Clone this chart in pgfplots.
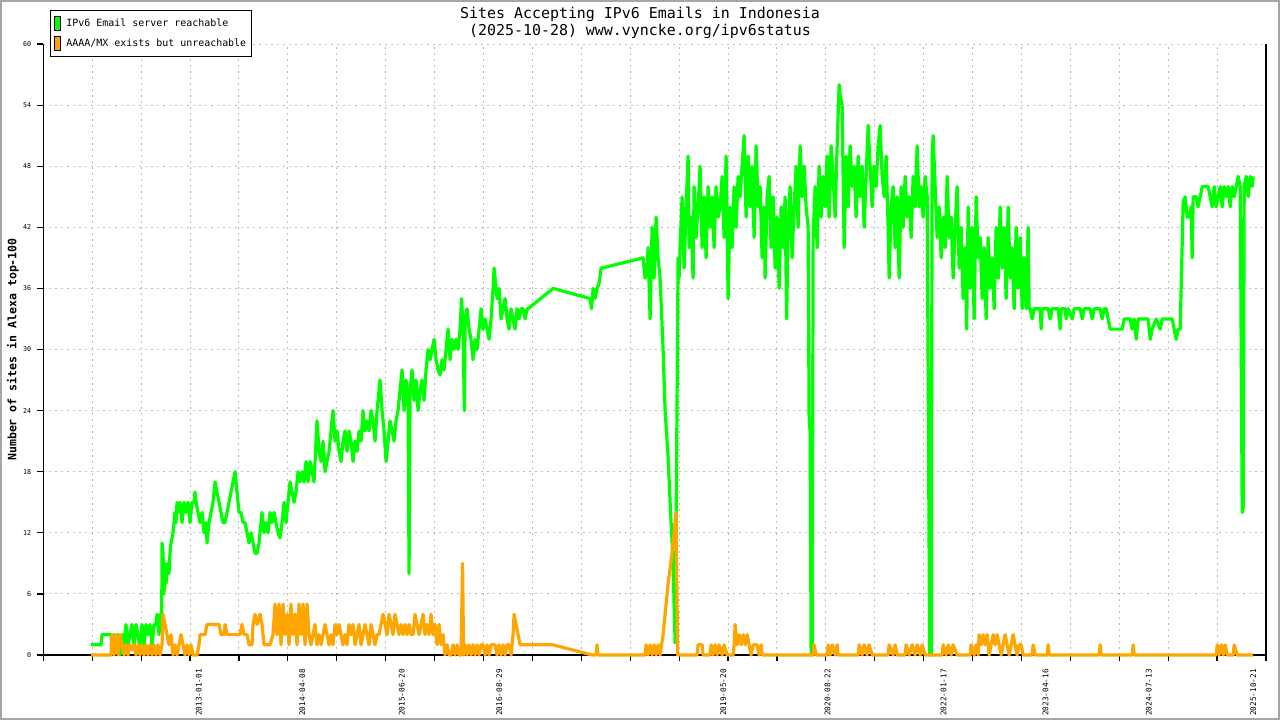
\documentclass[border=0pt]{standalone}
\usepackage{fontspec}
\usepackage{pgfplots}
\pgfplotsset{compat=1.18}
\newfontfamily\mono{DejaVu Sans Mono}
\definecolor{cgreen}{HTML}{00FF00}
\definecolor{corange}{HTML}{FFA500}
\definecolor{cgrid}{HTML}{BEBEBE}
\begin{document}
\begin{tikzpicture}
\useasboundingbox (-43.3bp,-65bp) rectangle (1236.7bp,655bp);
\fill[white] (-43.3bp,-65bp) rectangle (1236.7bp,655bp);
\draw[gray!70, line width=2bp] (-42.3bp,-64bp) rectangle (1235.7bp,654bp);
\begin{axis}[
  scale only axis, width=1222.7bp, height=611bp,
  xmin=43.3, xmax=1265.8, ymin=0, ymax=60,
  axis x line*=bottom, axis y line*=left,
  axis line style={line width=1.2bp, black},
  clip=false,
  tick align=outside,
  xtick={43.3,92.2,141.1,190.0,238.9,287.8,336.7,385.6,434.5,483.4,532.3,581.2,630.1,679.0,727.9,776.8,825.7,874.6,923.5,972.4,1021.3,1070.2,1119.1,1168.0,1216.9,1265.8},
  xticklabels={},
  ytick={0,6,...,60},
  major tick length=6bp,
  every tick/.style={black, line width=1.2bp},
  grid=major,
  major grid style={cgrid, line width=0.9bp, dash pattern=on 2bp off 4bp},
  /pgf/number format/assume math mode=true,
  yticklabel style={font=\mono\fontsize{6.7}{8}\selectfont, inner sep=0pt, xshift=-6bp},
  extra x ticks={198.7,302.3,401.7,499.3,723.3,827.3,943.3,1045.5,1148.5,1253},
  extra x tick labels={2013-01-01,2014-04-08,2015-06-20,2016-08-29,2019-05-20,2020-08-22,2022-01-17,2023-04-16,2024-07-13,2025-10-21},
  extra x tick style={major tick length=0pt, grid=none,
    tick label style={font=\mono\fontsize{7.8}{9}\selectfont, inner sep=0pt, yshift=-14bp, rotate=90, anchor=east}},
  ylabel={\bfseries Number of sites in Alexa top-100},
  ylabel style={font=\mono\fontsize{11.6}{13}\selectfont, at={(axis description cs:-0.0248,0.5)}, anchor=center, inner sep=0pt},
  legend style={at={(axis description cs:0.0055,1.0556)}, anchor=north west, draw=black, line width=1bp,
    font=\mono\fontsize{10}{12}\selectfont, inner xsep=3bp, inner ysep=5.5bp, row sep=5bp,
    nodes={inner sep=2bp}, cells={anchor=west},
    /tikz/every odd column/.append style={column sep=4bp}},
  legend cell align=left,
]
\draw[black, line width=1.2bp] (rel axis cs:1,0) -- (rel axis cs:1,1);
\addplot[cgreen, line width=3.2bp, line join=round,
  legend image code/.code={\filldraw[fill=cgreen, draw=black, line width=0.8bp] (0bp,-7bp) rectangle (6bp,7bp);}]
coordinates {
(91,1)(101,1)(102,2)(111,2)(112,0.5)(114,2)(116,0.5)(118,2)(120,0)(122,2)(124,1)(126,3)(128,1)(130,2)(132,3)(134,1)(136,3)(138,2)(140,0.5)(142,3)(144,1)(146,3)(148,2)(150,3)(152,1)(154,3)(156,3)(157,4)(159,2)(160,4)(161,3)
(161.7,3)(162,11)(163,10)(164,6)(165,9)(166,7)(167,8)(168,9)(169,8)(170,10)(171,11)(173,12)(175,14)(176,13)(177,15)(178,14)(180,15)(182,13)(184,15)(186,14)(188,15)(190,13)(192,15)(194,15)(195,16)(196,15)(198,14)(200,13)(202,14)(204,12)(206,13)(207,11)(209,13)(211,14)(213,15)(215,17)(217,16)(219,15)(221,14)(223,13)(225,13)(227,14)(229,15)(231,16)(233,17)(235,18)(237,16)(239,14)(241,14)(243,13)(245,13)(247,12)(249,11)(251,12)(253,11)(255,10)(257,10)(259,11)(261,13)(262,14)(264,12)(266,13)(268,12)(270,14)(272,13)(274,14)(276,13)(278,12)(280,11.5)(282,13)(284,15)(286,13)(288,15)(290,17)(292,16)(294,15)(296,16)(298,18)(300,17)(302,18)(304,17)(306,19)(308,17)(310,19)(312,18)(314,17)(316,21)(317,23)(319,20)(321,19)(323,21)(325,18)(327,19)(329,20)(331,22)(333,24)(335,21)(337,22)(339,20)(341,19)(343,21)(345,22)(347,20)(349,22)(351,21)(353,19)(355,21)(357,20)(359,22)(361,21)(363,24)(365,22)(367,23)(369,22)(371,24)(373,23)(375,21)(377,24)(379,26)(380,27)(382,24)(384,22)(386,19)(388,21)(390,23)(392,22)(394,21)(396,23)(398,24)(400,26)(402,28)(404,24)(406,27)(408,25)(409,8)(410,26)(412,28)(414,25)(416,27)(418,24)(420,26)(422,27)(424,25)(426,28)(428,30)(430,29)(432,30)(434,31)(436,29)(438,28)(440,27.5)(442,29)(444,28)(446,30)(448,32)(450,29)(452,31)(454,30)(456,31)(458,30)(460,32)(461.5,35)(463,32)(464.3,24)(465,33)(467,34)(469,32)(471,31)(473,29)(475,31)(477,30)(479,32)(481,34)(483,32)(485,33)(487,32)(489,31)(491,33)(493,36)(494,38)(495,37)(497,35)(499,36)(501,33)(503,34)(505,35)(507,33)(509,32)(511,34)(513,33)(515,32)(517,34)(519,33)(521,34)(523,34)(525,33)(527,34)(528,34)
(553,36)(590,35)(591.5,34)(593,36)(595,35)(597,36)(599,36.5)(601,38)(602,38)(643,39)(645,37)(647,38)(648,40)(650,33)(652,42)(654,37)(656,43)(658,39)(660,37)(663,30)(665,24)(668,19.5)(670,15)(672,11)(673.5,7)(675,1.2)(676.5,19)(678,39)
(679,37)(680,40)(682,45)(684,38)(686,44)(688,49)(689,40)(691,43)(693,37)(694,46)(696,41)(698,44)(700,48)(702,40)(704,45)(706,39)(708,46)(710,42)(712,45)(714,40)(716,46)(718,43)(720,44)(722,47)(724,41)(726,49)(728,35)(730,44)(732,40)(734,46)(736,42)(738,47)(740,45)(742,48)(744,51)(746,43)(748,49)(750,44)(752,48)(754,41)(756,50)(758,44)(760,46)(762,39)(764,44)(765,37)(767,45)(769,47)(771,40)(773,45)(775,38)(777,43)(779,36)(781,44)(783,40)(785,45)(786.5,33)(788,42)(790,46)(792,39)(794,44)(796,48)(798,42)(800,50)(802,45)(804,48)(806,44)(808,42)(809,23)(810,22)(811,0)(812,0)(813,41)(815,46)(817,40)(819,48)(821,43)(823,47)(825,44)(827,49)(829,43)(831,50)(833,47)(835,43)(837,50)(839,56)(840,55)(842,54)(844,40)(846,49)(848,44)(850,50)(852,46)(854,48)(856,43)(858,49)(860,45)(862,48)(864,42)(866,47)(868,52)(870,48)(872,44)(874,48)(876,46)(878,50)(880,52)(882,47)(884,45)(886,49)(888,42)(889,37)(891,44)(893,46)(895,40)(897,45)(899,37)(901,46)(903,42)(905,47)(907,43)(909,45)(911,41)(913,47)(915,44)(917,50)(919,44)(921,46)(923,43)(925,47)(927,45)(928.3,23)(929.5,0)(931,0)(932,49)(933,51)(935,46)(937,41)(939,44)(941,39)(943,43)(945,40)(947,47)(949,41)(951,43)(953,37)(955,42)(957,46)(959,38)(961,42)(963,35)(965,40)(966.5,32)(968,44)(970,36)(972,42)(974,33)(976,45)(978,39)(980,41)(982,35)(984,40)(986,33)(988,41)(990,36)(992,39)(994,34)(996,42)(998,37)(1000,44)(1002,38)(1004,42)(1006,35)(1008,44)(1010,37)(1012,40)(1014,34)(1016,42)(1018,36)(1020,41)(1022,34)(1024,39)(1026,34)(1028,42)(1029,34)
(1030,34)(1032,33)(1034,34)(1040,34)(1041,32)(1042,34)(1048,34)(1050,33)(1052,34)(1058,34)(1060,32)(1061,34)(1065,34)(1066,33)(1068,34)(1072,33)(1074,34)(1080,34)(1082,33)(1084,34)(1090,34)(1092,33)(1094,34)(1100,34)(1102,33)(1104,34)(1106,34)(1108,33)(1110,32)(1122,32)(1124,33)(1130,33)(1132,32)(1134,33)(1136,31)(1138,33)(1148,33)(1150,31)(1152,32)(1156,33)(1160,32)(1162,33)(1172,33)(1174,32)(1176,31)(1178,32)(1180,32)(1183,44.5)(1185,45)(1187,43)(1189,43)(1191,44)(1192,39)(1193,45)(1196,45)(1198,44)(1200,45)(1202,46)(1208,46)(1210,45)(1212,44)(1214,46)(1216,44)(1218,45)(1220,46)(1222,44)(1224,46)(1226,45)(1228,46)(1230,44)(1232,46)(1234,45)(1236,46)(1238,47)(1240,46)(1241,30.5)(1242,14)(1243,14.5)(1244,46)(1246,47)(1248,45)(1250,47)(1252,46)(1253,47)
};
\addlegendentry{IPv6 Email server reachable}
\addplot[corange, line width=3.2bp, line join=round,
  legend image code/.code={\filldraw[fill=corange, draw=black, line width=0.8bp] (0bp,-7bp) rectangle (6bp,7bp);}]
coordinates {
(91,0)(111,0)(112,2)(114,0)(116,2)(118,0)(120,2)(122,1)(124,0)(126,1)(128,0)(130,1)(132,0.5)(134,1)(136,0)(138,1)(140,0)(142,1)(144,0)(146,1)(148,0)(150,1)(152,0)(154,1)(156,0)(158,1)(160,0)(162,1)(163,4)(165,3)(167,2)(169,1)(171,2)(173,0)(175,1)(177,0)(179,1)(181,2)(183,1)(185,0)(187,1)(189,0)(191,1)(193,0)(195,0)(197,0)(199,1)(200,2)(205,2)(207,3)(213,3)(219,3)(221,2)(224,2)(225,3)(227,2)(235,2)(240,2)(242,3)(244,2)(247,2)(249,1)(252,1)(253,3)(255,4)(257,3)(260,4)(262,3)(264,1)(268,1)(270,1)(273,2)(275,5)(277,2)(279,5)(281,1)(283,5)(285,2)(287,4)(289,1)(291,5)(293,2)(295,4)(297,1)(299,5)(301,2)(303,5)(305,1)(307,5)(309,2)(311,1)(313,2)(315,3)(317,1)(319,2)(321,1)(323,2)(325,3)(327,2)(329,1)(331,2)(333,1)(335,3)(337,2)(339,3)(341,2)(343,1)(345,2)(347,1)(349,3)(351,2)(353,3)(355,1)(357,2)(359,3)(361,1)(363,2)(365,3)(367,2)(369,1)(371,3)(373,2)(375,1)(377,2)(379,2)(381,3)(383,4)(385,3)(387,2)(389,4)(391,3)(393,2)(395,4)(397,3)(399,2)(401,3)(403,2)(405,3)(407,2)(409,3)(411,2)(413,2)(415,4)(417,3)(419,2)(421,3)(423,4)(425,2)(427,3)(429,2)(431,4)(433,2)(435,3)(437,1)(439,3)(441,1)(443,2)(445,0)(447,1)(449,0)(451,0)(453,1)(455,0)(457,1)(459,0)(461,0)(462.5,9)(463.5,0)(465,1)(467,0)(469,1)(471,0)(473,1)(475,0)(477,1)(479,0)(481,1)(483,1)(485,0)(487,1)(489,0)(491,1)(493,1)(495,1)(497,0)(499,1)(501,0)(503,1)(505,0)(507,1)(509,1)(511,0)(513,2)(514,4)(516,3)(518,2)(520,1)(527,1)(553,1)(592,0)(596,0)(597,1)(598,0)(645,0)(646,1)(648,0)(650,1)(652,0)(654,1)(656,0)(658,1)(660,0)(663,2)(665,4)(668,7)(670,8.5)(672,10)(674,12)(676,14)(677.5,0)(697,0)(698,1)(702,1)(703,0)(710,0)(711,1)(713,0)(715,1)(717,0)(719,1)(722,0)(724,1)(727,0)(733,0)(734,1)(735,3)(737,1)(739,2)(741,1)(743,2)(745,1)(747,2)(749,1)(751,0)(753,1)(757,1)(759,0)(761,1)(762,0)(813,0)(814,1)(816,0)(827,0)(828,1)(830,0)(832,1)(835,0)(837,1)(838,0)(858,0)(859,1)(862,0)(864,1)(867,0)(869,1)(872,0)(875,0)(888,0)(889,1)(893,0)(895,1)(897,0)(905,0)(906,1)(909,0)(912,1)(915,0)(917,1)(920,0)(922,1)(925,0)(942,0)(943,1)(946,0)(948,1)(951,0)(953,1)(957,0)(970,0)(971,1)(974,0)(976,1)(978,0)(979,2)(981,1)(983,2)(985,1)(987,2)(989,0)(991,1)(993,2)(995,1)(997,2)(999,1)(1001,0)(1003,1)(1005,2)(1007,1)(1009,0)(1011,1)(1013,2)(1015,1)(1017,0)(1019,1)(1021,1)(1023,0)(1032,0)(1033,1)(1035,0)(1047,0)(1048,1)(1049,0)(1099,0)(1100,1)(1101,0)(1132,0)(1133,1)(1134,0)(1216,0)(1217,1)(1219,0)(1221,1)(1223,0)(1225,1)(1227,0)(1233,0)(1234,1)(1237,0)(1253,0)
};
\addlegendentry{AAAA/MX exists but unreachable}
\node[font=\mono\fontsize{15}{18}\selectfont, anchor=base, inner sep=0pt] at (rel axis cs:0.488,1.0421) {Sites Accepting IPv6 Emails in Indonesia};
\node[font=\mono\fontsize{15}{18}\selectfont, anchor=base, inner sep=0pt] at (rel axis cs:0.488,1.0139) {(2025-10-28) www.vyncke.org/ipv6status};
\end{axis}
\end{tikzpicture}
\end{document}
